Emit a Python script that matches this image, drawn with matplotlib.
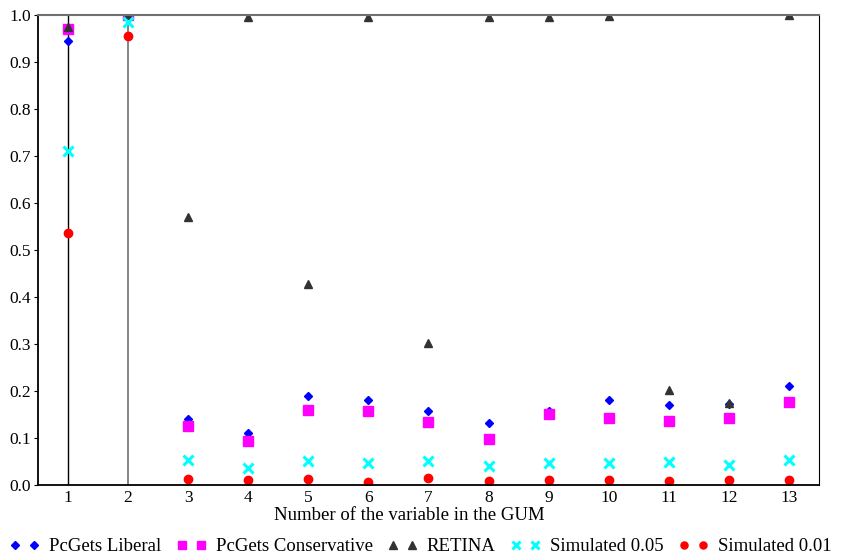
import numpy as np
import matplotlib.pyplot as plt

plt.rcParams["font.family"] = ["Liberation Serif", "DejaVu Serif"]
plt.rcParams["font.size"] = 13.5

variables = np.arange(1, 14)

pcgets_liberal = [0.945, 1.0, 0.14, 0.11, 0.19, 0.18, 0.158, 0.132, 0.158, 0.18, 0.17, 0.173, 0.21]
pcgets_conservative = [0.97, 1.0, 0.125, 0.093, 0.16, 0.158, 0.133, 0.097, 0.15, 0.142, 0.135, 0.143, 0.177]
retina = [0.975, 1.0, 0.57, 0.995, 0.428, 0.995, 0.303, 0.995, 0.995, 0.997, 0.203, 0.175, 1.0]
simulated_005 = [0.71, 0.985, 0.053, 0.036, 0.05, 0.047, 0.051, 0.041, 0.047, 0.047, 0.048, 0.043, 0.053]
simulated_001 = [0.536, 0.956, 0.013, 0.01, 0.012, 0.007, 0.014, 0.009, 0.011, 0.011, 0.009, 0.01, 0.01]

fig = plt.figure(figsize=(8.43, 5.58), dpi=100)
ax = fig.add_axes([0.045, 0.131, 0.9265, 0.842])

# vertical guide lines at the first two variables
ax.axvline(1, color="black", lw=1.0, zorder=1)
ax.axvline(2, color="#707070", lw=1.2, zorder=1)

ax.plot(variables, pcgets_liberal, ls="none", marker="D", ms=4.5, color="blue", label="PcGets Liberal")
ax.plot(variables, pcgets_conservative, ls="none", marker="s", ms=6.5, color="magenta", label="PcGets Conservative")
ax.plot(variables, retina, ls="none", marker="^", ms=6, color="#333333", label="RETINA")
ax.plot(variables, simulated_005, ls="none", marker="x", ms=6.5, mew=2.2, color="cyan", label="Simulated 0.05")
ax.plot(variables, simulated_001, ls="none", marker="o", ms=6, color="red", label="Simulated 0.01")

ax.set_xlim(0.5, 13.5)
ax.set_ylim(0, 1.0)
ax.set_xticks(variables)
ax.set_yticks(np.arange(0, 1.01, 0.1))
ax.set_yticklabels([f"{v:.1f}" for v in np.arange(0, 1.01, 0.1)])
ax.tick_params(axis="both", labelsize=12.5)
ax.tick_params(axis="x", length=0, pad=4)
ax.tick_params(axis="y", length=3, direction="out", pad=2)

ax.spines["top"].set_color("#707070")
ax.spines["top"].set_linewidth(1.5)
for s in ["left", "bottom", "right"]:
    ax.spines[s].set_color("black")
ax.spines["left"].set_linewidth(1.3)
ax.spines["bottom"].set_linewidth(1.3)

ax.set_xlabel("Number of the variable in the GUM")
# label sits a bit left of centre in the original
ax.xaxis.set_label_coords(0.476, -0.047, transform=ax.transAxes)
ax.xaxis.label.set_verticalalignment("top")

ax.legend(loc="center", bbox_to_anchor=(0.49, -0.132), ncol=5, frameon=False,
          numpoints=2, markerscale=0.85, handlelength=1.6, handletextpad=0.5,
          columnspacing=0.8, borderaxespad=0, borderpad=0)

fig.savefig("out.png", dpi=100)
